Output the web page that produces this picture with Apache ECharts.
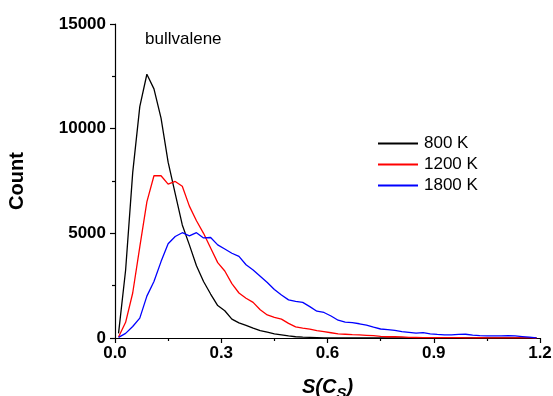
<!DOCTYPE html>
<html>
<head>
<meta charset="utf-8">
<script src="https://cdn.jsdelivr.net/npm/echarts@6/dist/echarts.min.js"></script>
<style>html,body{margin:0;padding:0;background:#fff}#c{width:553px;height:396px}</style>
</head>
<body>
<div id="c"></div>
<script>
const sValues = [0.01,0.03,0.05,0.07,0.09,0.11,0.13,0.15,0.17,0.19,
0.21,0.23,0.25,0.27,0.29,0.31,0.33,0.35,0.37,0.39,
0.41,0.43,0.45,0.47,0.49,0.51,0.53,0.55,0.57,0.59,
0.61,0.63,0.65,0.67,0.69,0.71,0.73,0.75,0.77,0.79,
0.81,0.83,0.85,0.87,0.89,0.91,0.93,0.95,0.97,0.99,
1.01,1.03,1.05,1.07,1.09,1.11,1.13,1.15,1.17,1.19];
const count800 = [220,3250,7900,11050,12600,11900,10500,8400,6900,5400,
4450,3450,2700,2100,1550,1300,900,720,600,470,
350,280,200,150,100,60,40,30,20,10,
8,5,0,0,0,0,0,0,0,0,
0,0,0,0,0,0,0,0,0,0,
0,0,0,0,0,0,0,0,0,0];
const count1200 = [50,750,2150,4350,6500,7750,7750,7350,7480,7250,
6300,5600,5000,4300,3600,3200,2600,2150,1900,1700,
1350,1100,980,900,700,530,470,420,350,300,
250,200,180,160,150,130,110,80,60,60,
50,30,25,20,20,15,15,20,15,10,
10,15,10,10,10,5,10,5,5,0];
const count1800 = [30,220,550,950,2000,2700,3650,4500,4850,5030,
4880,5030,4780,4800,4450,4250,4050,3900,3500,3250,
2950,2650,2320,2050,1820,1750,1700,1500,1280,1220,
1050,850,760,730,680,620,520,430,400,360,
300,270,230,260,200,170,150,150,170,180,
140,110,100,100,100,110,100,70,40,10];
const seriesNames = ['800 K','1200 K','1800 K'];
const seriesColors = ['#000000','#ff0000','#0000ff'];
const xTicks = [0.0,0.3,0.6,0.9,1.2];
const yTicks = [0,5000,10000,15000];

const chart = echarts.init(document.getElementById('c'));
const allCounts = [count800, count1200, count1800];
const font = 'Liberation Sans, Arial, sans-serif';
chart.setOption({
  animation: false,
  grid: {left: 115, right: 13, top: 24, bottom: 58, containLabel: false, outerBoundsMode: 'none'},
  legend: {
    orient: 'vertical', left: 373, top: 130, itemWidth: 40, itemHeight: 2, itemGap: 4,
    icon: 'rect',
    textStyle: {fontFamily: font, fontSize: 17, color: '#000', padding: [0,0,0,1]},
    data: seriesNames
  },
  graphic: [{
    type: 'text', left: 145, top: 31,
    style: {text: 'bullvalene', fontFamily: font, fontSize: 17, fill: '#000'}
  }],
  xAxis: {
    type: 'value', min: 0, max: 1.2, interval: 0.3,
    name: '{a|S(C}{b|S}{a|)}', nameLocation: 'middle', nameGap: 36,
    nameTextStyle: {rich: {
      a: {fontFamily: font, fontSize: 20, fontWeight: 'bold', fontStyle: 'italic', color: '#000'},
      b: {fontFamily: font, fontSize: 15, fontWeight: 'bold', fontStyle: 'italic', color: '#000', padding: [12,0,0,0]}
    }},
    axisLine: {lineStyle: {color: '#000', width: 1.2}},
    axisTick: {inside: false, length: 5, lineStyle: {color: '#000', width: 1.2}},
    minorTick: {show: true, splitNumber: 2, length: 3, lineStyle: {color: '#000', width: 1.2}},
    splitLine: {show: false},
    axisLabel: {fontFamily: font, fontSize: 17, fontWeight: 'bold', color: '#000', margin: 7,
      formatter: v => v.toFixed(1)}
  },
  yAxis: {
    type: 'value', min: 0, max: 15000, interval: 5000,
    name: 'Count', nameLocation: 'middle', nameGap: 88, nameRotate: 90,
    nameTextStyle: {fontFamily: font, fontSize: 20, fontWeight: 'bold', color: '#000'},
    axisLine: {show: true, lineStyle: {color: '#000', width: 1.2}},
    axisTick: {show: true, inside: false, length: 5, lineStyle: {color: '#000', width: 1.2}},
    minorTick: {show: true, splitNumber: 2, length: 3, lineStyle: {color: '#000', width: 1.2}},
    splitLine: {show: false},
    axisLabel: {fontFamily: font, fontSize: 17, fontWeight: 'bold', color: '#000', margin: 9,
      formatter: v => String(v)}
  },
  series: seriesNames.map((n, i) => ({
    name: n, type: 'line', showSymbol: false, symbol: 'none',
    lineStyle: {color: seriesColors[i], width: 1.3},
    itemStyle: {color: seriesColors[i]},
    data: sValues.map((x, j) => [x, allCounts[i][j]])
  }))
});
</script>
</body>
</html>
